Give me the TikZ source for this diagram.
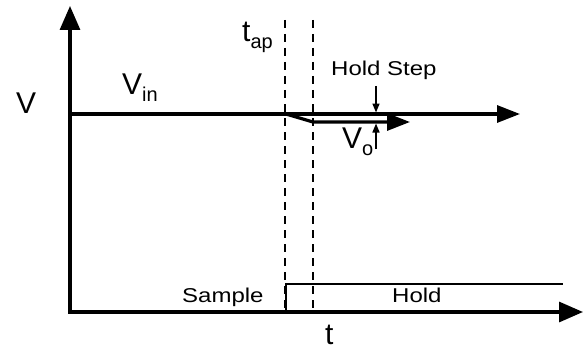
\documentclass[tikz,border=0pt]{standalone}
\usepackage{fontspec}
\setmainfont{Liberation Sans}
\newfontfamily\widefont[FakeStretch=1.2]{Liberation Sans}
\usetikzlibrary{arrows.meta}
\newcommand{\bigtxt}[1]{{\fontsize{30}{30}\selectfont #1}}
\newcommand{\subtxt}[1]{\raisebox{-7pt}{\fontsize{20}{20}\selectfont #1}}
\begin{document}
\begin{tikzpicture}[x=1pt,y=-1pt,
  axisln/.style={line width=3.2pt,-{Triangle[length=24pt,width=20pt]}},
  sigln/.style={line width=3.2pt,-{Triangle[length=23pt,width=17pt]}},
  thinln/.style={line width=1.6pt},
  dashln/.style={line width=1.6pt,dash pattern=on 8pt off 6pt},
  smallarr/.style={line width=1.6pt,-{Triangle[length=9pt,width=7pt]}},
  lbl/.style={inner sep=0pt,anchor=base west},
  wlbl/.style={inner sep=0pt,anchor=base west,font=\widefont\fontsize{20}{20}\selectfont}]
\useasboundingbox (0,0) rectangle (585,350);
% axes
\coordinate (O) at (70,312);
\coordinate (Ytop) at (70,6);
\coordinate (Xend) at (583,312);
\draw[axisln] (O) -- (Ytop);
\draw[axisln] ([xshift=-1.6pt]O) -- (Xend);
% Vin
\coordinate (Vin0) at (70,114);
\coordinate (Vin1) at (520,114);
\draw[sigln] (Vin0) -- (Vin1);
% Vo
\coordinate (Vo0) at (286,114);
\coordinate (Vo1) at (313,122);
\coordinate (Vo2) at (410,122);
\draw[sigln,line join=miter] (Vo0) -- (Vo1) -- (Vo2);
% dashed lines
\coordinate (D1t) at (285,20);
\coordinate (D1b) at (285,312);
\coordinate (D2t) at (313,20);
\coordinate (D2b) at (313,312);
\draw[dashln] (D1t) -- (D1b);
\draw[dashln] (D2t) -- (D2b);
% hold step arrows
\coordinate (HSa) at (376,86);
\coordinate (HSb) at (376,112.5);
\coordinate (HSc) at (376,149);
\coordinate (HSd) at (376,123.5);
\draw[smallarr] (HSa) -- (HSb);
\draw[smallarr] (HSc) -- (HSd);
% sample/hold step
\coordinate (S0) at (286,312);
\coordinate (S1) at (286,284);
\coordinate (S2) at (563,284);
\draw[thinln] (S0) -- (S1) -- (S2);
% labels
\node[lbl] (V) at (16,113) {\bigtxt{V}};
\node[lbl] (vin) at (122,95) {\bigtxt{V}\subtxt{in}};
\node[lbl] (vo) at (342,148) {\bigtxt{V}\subtxt{o}};
\node[lbl] (tap) at (242,42) {\bigtxt{t}\subtxt{ap}};
\node[lbl] (t) at (325,344) {\bigtxt{t}};
\node[wlbl] (hs) at (331,76) {Hold Step};
\node[wlbl] (smp) at (182,302) {Sample};
\node[wlbl] (hold) at (392,302) {Hold};
\end{tikzpicture}
\end{document}
